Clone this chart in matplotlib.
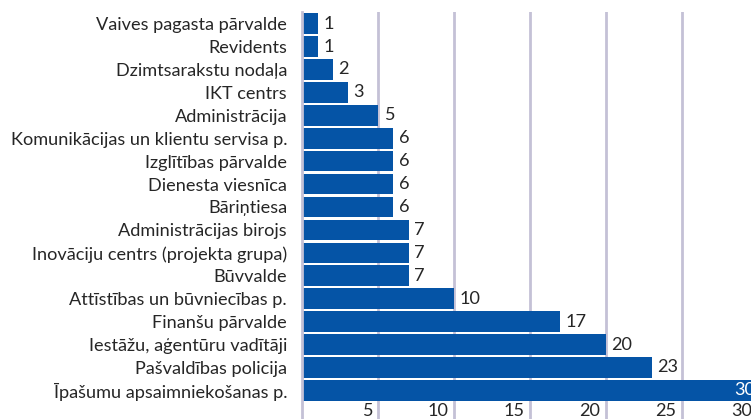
import numpy as np
from matplotlib import pyplot as plt

categories = [
    "Vaives pagasta pārvalde",
    "Revidents",
    "Dzimtsarakstu nodaļa",
    "IKT centrs",
    "Administrācija",
    "Komunikācijas un klientu servisa p.",
    "Izglītības pārvalde",
    "Dienesta viesnīca",
    "Bāriņtiesa",
    "Administrācijas birojs",
    "Inovāciju centrs (projekta grupa)",
    "Būvvalde",
    "Attīstības un būvniecības p.",
    "Finanšu pārvalde",
    "Iestāžu, aģentūru vadītāji",
    "Pašvaldības policija",
    "Īpašumu apsaimniekošanas p.",
]
values = [1, 1, 2, 3, 5, 6, 6, 6, 6, 7, 7, 7, 10, 17, 20, 23, 30]
x_ticks = [5, 10, 15, 20, 25, 30]

BAR_COLOR = "#0554a6"
GRID_COLOR = "#c4c1d6"
TEXT_COLOR = "#262626"
FS = 13.1

plt.rcParams["font.family"] = ["Lato", "DejaVu Sans"]

W, H, DPI = 751, 419, 100
fig = plt.figure(figsize=(W / DPI, H / DPI), dpi=DPI)

px_per_unit = 15.18
x_max = 31
ax = fig.add_axes([302.4 / W, 0, x_max * px_per_unit / W, (H - 12) / H])

y = np.arange(len(categories))
ax.barh(y, values, height=0.9, color=BAR_COLOR, zorder=2)

ax.set_xlim(0, x_max)
ax.set_ylim(17.25, -0.506)

for t in x_ticks:
    ax.axvline(t, color=GRID_COLOR, lw=2, zorder=1)

for s in ["top", "right", "bottom"]:
    ax.spines[s].set_visible(False)
ax.spines["left"].set_color(GRID_COLOR)
ax.spines["left"].set_linewidth(2)

ax.set_xticks([])
ax.set_yticks(y)
ax.set_yticklabels(categories, fontsize=FS, color=TEXT_COLOR)
ax.tick_params(axis="y", length=0, pad=11)

# value labels
for yi, v in zip(y, values):
    if v >= 30:
        ax.annotate(str(v), (v, yi), xytext=(-2, 0), textcoords="offset points",
                    ha="right", va="center", color="white", fontsize=FS,
                    zorder=3)
    else:
        ax.annotate(str(v), (v, yi), xytext=(4, 0), textcoords="offset points",
                    ha="left", va="center", color=TEXT_COLOR, fontsize=FS,
                    zorder=3)

# bottom tick labels (cut by figure edge)
for t in x_ticks:
    ax.annotate(str(t), (t, 16.55), xytext=(-4, 0), textcoords="offset points",
                ha="right", va="top", color=TEXT_COLOR, fontsize=FS,
                annotation_clip=False)

fig.savefig("out.png", dpi=DPI)
